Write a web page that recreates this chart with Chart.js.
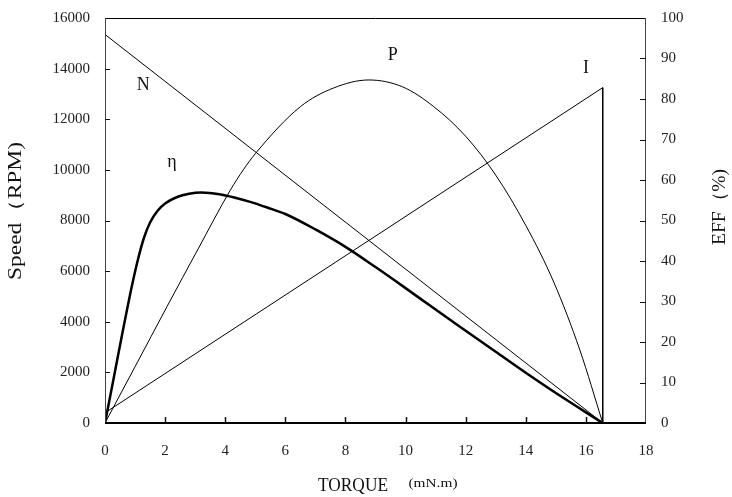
<!DOCTYPE html>
<html><head><meta charset="utf-8">
<script src="https://cdn.jsdelivr.net/npm/chart.js@4/dist/chart.umd.min.js"></script>
<style>html,body{margin:0;padding:0;background:#fff}#wrap{width:732px;height:497px}</style>
</head><body><div id="wrap"><canvas id="c" width="732" height="497"></canvas></div>
<script>
// ---- data ----
const xTicks = [0, 2, 4, 6, 8, 10, 12, 14, 16, 18];
const speedTicks = [0, 2000, 4000, 6000, 8000, 10000, 12000, 14000, 16000];
const effTicks = [0, 10, 20, 30, 40, 50, 60, 70, 80, 90, 100];

const speedTorque = [0, 16.56];
const speedRpm = [15350, 0];

const powerTorque = [0, 1.0, 2.06, 3.1, 4.17, 4.6, 5.0, 6.5, 7.6, 8.78, 9.9, 10.94, 12.0, 13.0, 14.0, 14.93, 15.8, 16.56];
const powerVal = [0, 13.9, 28.7, 43, 57.5, 62.5, 66.5, 78.1, 82.7, 84.7, 83, 78.1, 70.8, 61.2, 48.8, 34.8, 18, 0];

const currentTorque = [0, 0.08, 16.56, 16.56];
const currentVal = [0, 2.9, 82.8, 0];

const effTorque = [0, 0.3, 0.6, 0.9, 1.1, 1.3, 1.5, 1.75, 2.0, 2.4, 2.8, 3.2, 3.8, 4.3, 4.83, 5.4, 6.0, 7.0, 8.0, 9.0, 10.0, 11.0, 12.0, 13.0, 14.0, 15.0, 16.56];
const effVal = [0, 11.5, 23, 34, 40.5, 45.8, 49.5, 52.4, 54.2, 55.8, 56.6, 56.9, 56.5, 55.7, 54.6, 53.2, 51.6, 47.8, 43.5, 38.5, 33.3, 28.0, 22.8, 17.6, 12.4, 7.4, 0];

const curveLabels = [
  { text: 'N', x: 1.27, y: 13350, axis: 'y' },
  { text: 'P', x: 9.57, y: 90.9, axis: 'y1' },
  { text: 'η', x: 2.23, y: 64.4, axis: 'y1' },
  { text: 'I', x: 16.0, y: 87.7, axis: 'y1' }
];

const zip = (xs, ys) => xs.map((x, i) => ({ x: x, y: ys[i] }));
const SERIF = '"Liberation Serif", "Times New Roman", serif';
const tickFont = { family: SERIF, size: 15 };
const tickColor = '#222';

function drawStretched(ctx, text, cx, cy, font, targetW, rot) {
  ctx.save();
  ctx.font = font;
  const w = ctx.measureText(text).width;
  ctx.translate(cx, cy);
  ctx.rotate(rot);
  ctx.scale(targetW / w, 1);
  ctx.textAlign = 'center';
  ctx.textBaseline = 'middle';
  ctx.fillStyle = '#111';
  ctx.fillText(text, 0, 0);
  ctx.restore();
}

const deco = {
  id: 'deco',
  afterDatasetsDraw(chart) {
    const ctx = chart.ctx;
    const a = chart.chartArea;
    const sx = chart.scales.x, sy = chart.scales.y, sy1 = chart.scales.y1;
    ctx.save();
    // frame
    ctx.lineWidth = 1;
    ctx.strokeStyle = '#000';
    ctx.beginPath(); ctx.moveTo(a.left, a.top + 0.5); ctx.lineTo(a.right, a.top + 0.5); ctx.stroke();
    ctx.strokeStyle = '#444';
    ctx.beginPath(); ctx.moveTo(a.left + 0.5, a.top); ctx.lineTo(a.left + 0.5, a.bottom); ctx.stroke();
    ctx.beginPath(); ctx.moveTo(a.right - 0.5, a.top); ctx.lineTo(a.right - 0.5, a.bottom); ctx.stroke();
    ctx.strokeStyle = '#000';
    ctx.lineWidth = 2;
    ctx.beginPath(); ctx.moveTo(a.left, a.bottom); ctx.lineTo(a.right, a.bottom); ctx.stroke();
    // inward tick marks
    ctx.lineWidth = 1.5;
    ctx.strokeStyle = '#111';
    xTicks.forEach(v => {
      if (v <= 0 || v >= 18) return;
      const px = Math.round(sx.getPixelForValue(v)) + 0.5;
      ctx.beginPath(); ctx.moveTo(px, a.bottom); ctx.lineTo(px, a.bottom - 6); ctx.stroke();
    });
    ctx.lineWidth = 1;
    speedTicks.forEach(v => {
      if (v <= 0 || v >= 16000) return;
      const py = Math.round(sy.getPixelForValue(v)) + 0.5;
      ctx.beginPath(); ctx.moveTo(a.left, py); ctx.lineTo(a.left + 5, py); ctx.stroke();
    });
    effTicks.forEach(v => {
      if (v <= 0 || v >= 100) return;
      const py = Math.round(sy1.getPixelForValue(v)) + 0.5;
      ctx.beginPath(); ctx.moveTo(a.right, py); ctx.lineTo(a.right - 6, py); ctx.stroke();
    });
    // curve labels
    ctx.fillStyle = '#111';
    ctx.font = '18px ' + SERIF;
    ctx.textAlign = 'center';
    ctx.textBaseline = 'middle';
    curveLabels.forEach(l => {
      const ys = l.axis === 'y' ? sy : sy1;
      ctx.fillText(l.text, sx.getPixelForValue(l.x), ys.getPixelForValue(l.y));
    });
    ctx.restore();
    // axis titles
    drawStretched(ctx, 'Speed（RPM)', 16, 211, '18px ' + SERIF, 138, -Math.PI / 2);
    drawStretched(ctx, 'EFF（%)', 720, 207, '18px ' + SERIF, 76, -Math.PI / 2);
    drawStretched(ctx, 'TORQUE', 353, 486, '18px ' + SERIF, 70, 0);
    drawStretched(ctx, '(mN.m)', 433, 484, '13px ' + SERIF, 49, 0);
  }
};

new Chart(document.getElementById('c').getContext('2d'), {
  type: 'line',
  data: {
    datasets: [
      { label: 'N', data: zip(speedTorque, speedRpm), yAxisID: 'y', borderColor: '#000', borderWidth: 1, pointRadius: 0, tension: 0, fill: false },
      { label: 'P', data: zip(powerTorque, powerVal), yAxisID: 'y1', borderColor: '#000', borderWidth: 1, pointRadius: 0, cubicInterpolationMode: 'monotone', fill: false },
      { label: 'I', data: zip(currentTorque, currentVal), yAxisID: 'y1', borderColor: '#000', borderWidth: 1, pointRadius: 0, tension: 0, fill: false },
      { label: 'η', data: zip(effTorque, effVal), yAxisID: 'y1', borderColor: '#000', borderWidth: 2.5, pointRadius: 0, cubicInterpolationMode: 'monotone', fill: false }
    ]
  },
  options: {
    responsive: false,
    animation: false,
    devicePixelRatio: 1,
    layout: { padding: { top: 18, left: 0, right: 0, bottom: 0 } },
    plugins: { legend: { display: false }, tooltip: { enabled: false } },
    scales: {
      x: {
        type: 'linear', min: 0, max: 18,
        grid: { display: false, drawTicks: false }, border: { display: false },
        ticks: { stepSize: 2, padding: 19, font: tickFont, color: tickColor, maxRotation: 0,
                 callback: v => xTicks.includes(v) ? String(v) : '' },
        afterFit(s) { s.height = 74; s.paddingLeft = 0; s.paddingRight = 0; }
      },
      y: {
        position: 'left', min: 0, max: 16000,
        grid: { display: false, drawTicks: false }, border: { display: false },
        ticks: { stepSize: 2000, padding: 15, font: tickFont, color: tickColor,
                 callback: v => speedTicks.includes(v) ? String(v) : '' },
        afterFit(s) { s.width = 105; s.paddingTop = 0; s.paddingBottom = 0; }
      },
      y1: {
        position: 'right', min: 0, max: 100,
        grid: { display: false, drawTicks: false }, border: { display: false },
        ticks: { stepSize: 10, padding: 15, font: tickFont, color: tickColor,
                 callback: v => effTicks.includes(v) ? String(v) : '' },
        afterFit(s) { s.width = 86; s.paddingTop = 0; s.paddingBottom = 0; }
      }
    }
  },
  plugins: [deco]
});
</script>
</body></html>
